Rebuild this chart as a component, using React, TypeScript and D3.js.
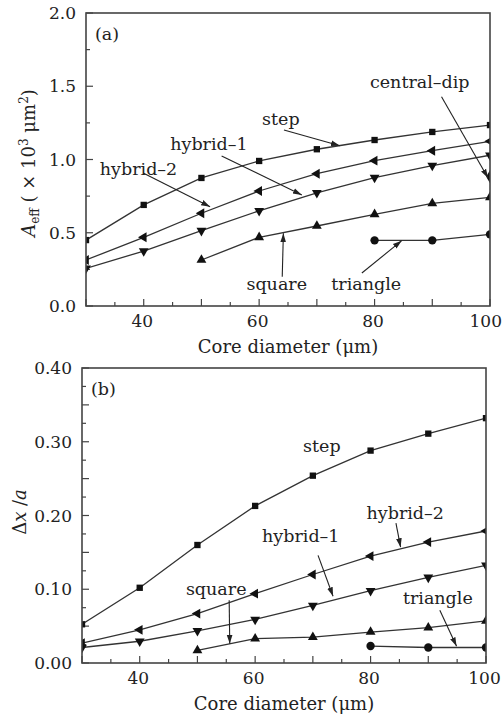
import * as d3 from "d3";
import { useEffect, useRef } from "react";

// core diameters (μm)
const diameters = [30, 40, 50, 60, 70, 80, 90, 100];
const squareDiameters = [50, 60, 70, 80, 90, 100];
const triangleDiameters = [80, 90, 100];
const dipDiameters = [100];
const xTickLabels = [40, 60, 80, 100];

// (a) effective mode area, ×10^3 μm²
const aeffStep = [0.45, 0.69, 0.874, 0.99, 1.07, 1.133, 1.188, 1.235];
const aeffHybrid2 = [0.314, 0.469, 0.633, 0.785, 0.903, 0.992, 1.06, 1.124];
const aeffHybrid1 = [0.257, 0.375, 0.514, 0.65, 0.773, 0.876, 0.958, 1.029];
const aeffSquare = [0.314, 0.469, 0.546, 0.626, 0.7, 0.742];
const aeffTriangle = [0.448, 0.448, 0.489];
const aeffCentralDip = [0.883];

// (b) relative mode displacement Δx/a
const shiftStep = [0.0525, 0.102, 0.16, 0.213, 0.254, 0.288, 0.311, 0.332];
const shiftHybrid2 = [0.027, 0.045, 0.067, 0.094, 0.12, 0.145, 0.164, 0.179];
const shiftHybrid1 = [0.021, 0.0295, 0.0435, 0.059, 0.078, 0.098, 0.116, 0.1325];
const shiftSquare = [0.017, 0.033, 0.035, 0.042, 0.048, 0.057];
const shiftTriangle = [0.023, 0.021, 0.021];

// annotation text anchors and arrows, in data units
const notesA = [
  { text: "step", x: 60.5, y: 1.235, from: [64.3, 1.201], to: [74.0, 1.094] },
  { text: "central–dip", x: 79.2, y: 1.488, from: [91.6, 1.429], to: [99.66, 0.874] },
  { text: "hybrid–1", x: 44.6, y: 1.065, from: [53.5, 1.024], to: [67.4, 0.758] },
  { text: "hybrid–2", x: 32.4, y: 0.894, from: [39.9, 0.908], to: [51.5, 0.678] },
  { text: "square", x: 57.8, y: 0.109, from: [64.0, 0.2], to: [64.2, 0.496] },
  { text: "triangle", x: 72.5, y: 0.109, from: [77.8, 0.225], to: [84.7, 0.446] },
];

const notesB = [
  { text: "step", x: 68.3, y: 0.286 },
  { text: "hybrid–2", x: 79.3, y: 0.195, from: [84.4, 0.1896], to: [85.2, 0.157] },
  { text: "hybrid–1", x: 61.2, y: 0.164, from: [70.9, 0.146], to: [73.5, 0.0905] },
  { text: "square", x: 48.0, y: 0.0919, from: [55.5, 0.085], to: [55.6, 0.026] },
  { text: "triangle", x: 85.6, y: 0.0796, from: [92.0, 0.0715], to: [94.9, 0.0227] },
];

const FONT = "'DejaVu Serif', serif";
const INK = "#222";
const WIDTH = 503;
const HEIGHT = 717;

type Series = { xs: number[]; ys: number[]; symbol: string };
type Note = { text: string; x: number; y: number; from?: number[]; to?: number[] };
type Panel = {
  id: string;
  tag: string;
  left: number;
  right: number;
  top: number;
  bottom: number;
  yMax: number;
  yLabelStep: number;
  yMajorStep: number;
  yMinorStep: number;
  yFormat: string;
  series: Series[];
  notes: Note[];
  yLabel: (svg: any, cx: number, cy: number) => void;
  yLabelX: number;
  yLabelY: number;
};

const panelA: Panel = {
  id: "a",
  tag: "(a)",
  left: 86,
  right: 490,
  top: 13,
  bottom: 306,
  yMax: 2,
  yLabelStep: 0.5,
  yMajorStep: 0.5,
  yMinorStep: 0.25,
  yFormat: ".1f",
  series: [
    { xs: diameters, ys: aeffStep, symbol: "square" },
    { xs: diameters, ys: aeffHybrid2, symbol: "left" },
    { xs: diameters, ys: aeffHybrid1, symbol: "down" },
    { xs: squareDiameters, ys: aeffSquare, symbol: "up" },
    { xs: triangleDiameters, ys: aeffTriangle, symbol: "circle" },
    { xs: dipDiameters, ys: aeffCentralDip, symbol: "diamond" },
  ],
  notes: notesA,
  yLabel: drawAeffLabel,
  yLabelX: 35,
  yLabelY: 163,
};

const panelB: Panel = {
  id: "b",
  tag: "(b)",
  left: 82,
  right: 486,
  top: 368,
  bottom: 663,
  yMax: 0.4,
  yLabelStep: 0.1,
  yMajorStep: 0.05,
  yMinorStep: 0.025,
  yFormat: ".2f",
  series: [
    { xs: diameters, ys: shiftStep, symbol: "square" },
    { xs: diameters, ys: shiftHybrid2, symbol: "left" },
    { xs: diameters, ys: shiftHybrid1, symbol: "down" },
    { xs: squareDiameters, ys: shiftSquare, symbol: "up" },
    { xs: triangleDiameters, ys: shiftTriangle, symbol: "circle" },
  ],
  notes: notesB,
  yLabel: drawShiftLabel,
  yLabelX: 26,
  yLabelY: 512,
};

export default function App() {
  const svgRef = useRef<SVGSVGElement>(null);

  useEffect(() => {
    const svg = d3.select(svgRef.current);
    svg.selectAll("*").remove();

    svg.append("rect").attr("width", WIDTH).attr("height", HEIGHT).attr("fill", "#fff");
    defineArrow(svg);

    drawPanel(svg, panelA);
    drawPanel(svg, panelB);
  }, []);

  return (
    <svg
      ref={svgRef}
      width={WIDTH}
      height={HEIGHT}
      style={{ position: "absolute", left: 0, top: 0 }}
    ></svg>
  );
}

function defineArrow(svg: any) {
  svg.append("defs")
    .append("marker")
    .attr("id", "arrowHead")
    .attr("viewBox", "0 0 10 10")
    .attr("refX", 10)
    .attr("refY", 5)
    .attr("markerWidth", 9)
    .attr("markerHeight", 9)
    .attr("markerUnits", "userSpaceOnUse")
    .attr("orient", "auto")
    .append("path")
    .attr("d", "M0,1.8L10,5L0,8.2Z")
    .attr("fill", INK);
}

function markerPath(symbol: string) {
  if (symbol === "square") return d3.symbol(d3.symbolSquare, 40)();
  if (symbol === "circle") return d3.symbol(d3.symbolCircle, 55)();
  if (symbol === "diamond") return d3.symbol(d3.symbolDiamond, 50)();
  return d3.symbol(d3.symbolTriangle, 42)();
}

function markerRotation(symbol: string) {
  if (symbol === "down") return 180;
  if (symbol === "left") return -90;
  return 0;
}

function drawPanel(svg: any, p: Panel) {
  const x = d3.scaleLinear().domain([30, 100]).range([p.left, p.right]);
  const y = d3.scaleLinear().domain([0, p.yMax]).range([p.bottom, p.top]);

  const clipId = `clip-${p.id}`;
  svg.append("clipPath")
    .attr("id", clipId)
    .append("rect")
    .attr("x", p.left)
    .attr("y", p.top)
    .attr("width", p.right - p.left)
    .attr("height", p.bottom - p.top);

  // ticks (inward)
  const ticks = svg.append("g").attr("stroke", "#444").attr("stroke-width", 1.2);
  const eps = 1e-6;

  d3.range(30, 100 + eps, 5).forEach((v) => {
    const len = Math.abs(v % 10) < eps ? 7 : 4;
    ticks.append("line")
      .attr("x1", x(v)).attr("x2", x(v))
      .attr("y1", p.bottom).attr("y2", p.bottom - len);
  });

  const nMinor = Math.round(p.yMax / p.yMinorStep);
  d3.range(0, nMinor + 1).forEach((i) => {
    const v = i * p.yMinorStep;
    const r = v / p.yMajorStep;
    const len = Math.abs(r - Math.round(r)) < eps ? 7 : 4;
    ticks.append("line")
      .attr("x1", p.left).attr("x2", p.left + len)
      .attr("y1", y(v)).attr("y2", y(v));
  });

  // tick labels
  const labels = svg.append("g")
    .attr("font-family", FONT)
    .attr("font-size", 17)
    .attr("fill", INK);

  xTickLabels.forEach((v) => {
    const t = labels.append("text")
      .attr("x", x(v) - 1.5)
      .attr("y", p.bottom + 21)
      .attr("text-anchor", "middle")
      .text(v);
    // keep the last label inside the page
    const w = (t.node() as SVGTextElement).getComputedTextLength();
    if (x(v) - 1.5 + w / 2 > WIDTH - 1) t.attr("x", WIDTH - 1 - w / 2);
  });

  const fmt = d3.format(p.yFormat);
  const nLab = Math.round(p.yMax / p.yLabelStep);
  d3.range(0, nLab + 1).forEach((i) => {
    const v = i * p.yLabelStep;
    labels.append("text")
      .attr("x", p.left - 10)
      .attr("y", y(v))
      .attr("dy", "0.36em")
      .attr("text-anchor", "end")
      .text(fmt(v));
  });

  // axis titles
  svg.append("text")
    .attr("x", (p.left + p.right) / 2)
    .attr("y", p.bottom + 47)
    .attr("text-anchor", "middle")
    .attr("font-family", FONT)
    .attr("font-size", 18)
    .attr("fill", INK)
    .text("Core diameter (μm)");

  p.yLabel(svg, p.yLabelX, p.yLabelY);

  // series
  const plot = svg.append("g").attr("clip-path", `url(#${clipId})`);
  const line = d3.line<number[]>()
    .x((d) => x(d[0]))
    .y((d) => y(d[1]));

  p.series.forEach((s) => {
    const pts = s.xs.map((v, i) => [v, s.ys[i]]);
    if (pts.length > 1) {
      plot.append("path")
        .attr("d", line(pts))
        .attr("fill", "none")
        .attr("stroke", "#333")
        .attr("stroke-width", 1.3);
    }
    plot.append("g")
      .selectAll("path")
      .data(pts)
      .join("path")
      .attr("d", markerPath(s.symbol))
      .attr("transform", (d: number[]) =>
        `translate(${x(d[0])},${y(d[1])}) rotate(${markerRotation(s.symbol)})`)
      .attr("fill", "#111");
  });

  // annotations
  const notes = svg.append("g")
    .attr("font-family", FONT)
    .attr("font-size", 17.5)
    .attr("fill", INK);

  p.notes.forEach((n) => {
    notes.append("text").attr("x", x(n.x)).attr("y", y(n.y)).text(n.text);
    if (n.from && n.to) {
      svg.append("line")
        .attr("x1", x(n.from[0])).attr("y1", y(n.from[1]))
        .attr("x2", x(n.to[0])).attr("y2", y(n.to[1]))
        .attr("stroke", INK)
        .attr("stroke-width", 1.1)
        .attr("marker-end", "url(#arrowHead)");
    }
  });

  // panel tag
  svg.append("text")
    .attr("x", p.left + 9)
    .attr("y", p.top + 27)
    .attr("font-family", FONT)
    .attr("font-size", 17.5)
    .attr("fill", INK)
    .text(p.tag);

  // frame
  svg.append("rect")
    .attr("x", p.left)
    .attr("y", p.top)
    .attr("width", p.right - p.left)
    .attr("height", p.bottom - p.top)
    .attr("fill", "none")
    .attr("stroke", "#444")
    .attr("stroke-width", 1.6);
}

function drawAeffLabel(svg: any, cx: number, cy: number) {
  const t = svg.append("text")
    .attr("transform", `translate(${cx},${cy}) rotate(-90)`)
    .attr("text-anchor", "middle")
    .attr("font-family", FONT)
    .attr("font-size", 18)
    .attr("fill", INK);
  t.append("tspan").attr("font-style", "italic").text("A");
  t.append("tspan").attr("font-size", 12).attr("dy", 4).text("eff");
  t.append("tspan").attr("dy", -4).text(" ( × 10");
  t.append("tspan").attr("font-size", 12).attr("dy", -7).text("3");
  t.append("tspan").attr("dy", 7).text(" μm");
  t.append("tspan").attr("font-size", 12).attr("dy", -7).text("2");
  t.append("tspan").attr("dy", 7).text(")");
}

function drawShiftLabel(svg: any, cx: number, cy: number) {
  const t = svg.append("text")
    .attr("transform", `translate(${cx},${cy}) rotate(-90)`)
    .attr("text-anchor", "middle")
    .attr("font-family", FONT)
    .attr("font-size", 18)
    .attr("fill", INK);
  t.append("tspan").text("Δ");
  t.append("tspan").attr("font-style", "italic").text("x");
  t.append("tspan").text(" /");
  t.append("tspan").attr("font-style", "italic").text("a");
}
